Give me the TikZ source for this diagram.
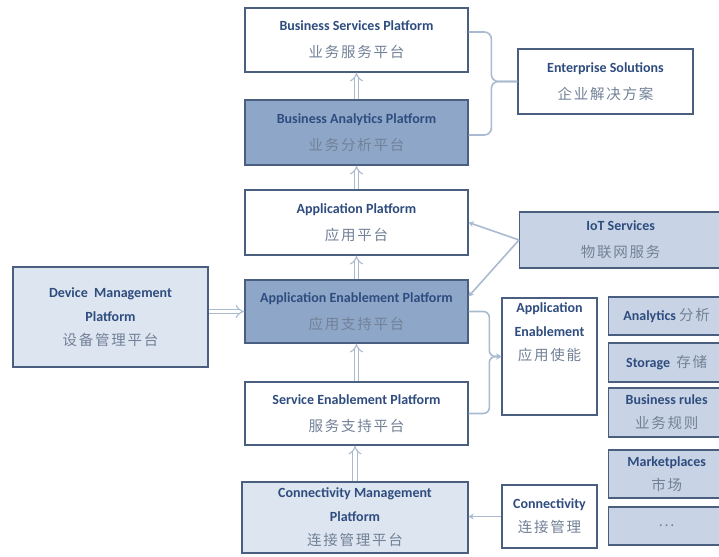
\documentclass[tikz,border=0pt]{standalone}
\usepackage{fontspec}
\setmainfont{Carlito}
\newfontfamily\cjk[LetterSpace=12]{Noto Sans CJK SC}
\usetikzlibrary{arrows.meta, positioning}
\definecolor{boxline}{HTML}{4A5F80}
\definecolor{entext}{HTML}{2E4C7E}
\definecolor{zhtext}{HTML}{728197}
\definecolor{darkfill}{HTML}{8EA7C9}
\definecolor{lightfill}{HTML}{DDE5F0}
\definecolor{midfill}{HTML}{C8D4E5}
\definecolor{linkline}{HTML}{AABAD1}
\newcommand{\zh}[1]{{\cjk\mdseries\color{zhtext}\fontsize{14.5}{24}\selectfont #1}}
\tikzset{
    block/.style={
        draw=boxline, line width=1.3pt, fill=white,
        align=center, inner sep=2pt, text=entext,
        font=\bfseries\fontsize{14}{24}\selectfont
    },
    platform/.style={block, minimum width=223pt, minimum height=64pt},
    dark/.style={fill=darkfill},
    light/.style={fill=lightfill},
    feature/.style={block, fill=midfill, minimum width=116pt, anchor=west},
    uplink/.style={draw=linkline, line width=1.1pt, double=white,
        double distance=3.4pt, -{Implies}},
    link/.style={draw=linkline, line width=1.6pt},
    >={Stealth[length=5pt,width=6pt]},
}

\begin{document}
\begin{tikzpicture}[x=1pt,y=-1pt]
    \useasboundingbox (0,0) rectangle (719,556);
    % platform stack
    \node[platform] (bsp) at (356.5,40) {Business Services Platform\\[3pt]\zh{业务服务平台}};
    \node[platform, dark, minimum height=65pt] (bap) at (356.5,132.5) {Business Analytics Platform\\[3pt]\zh{业务分析平台}};
    \node[platform, minimum height=65pt] (ap) at (356.5,222.5) {Application Platform\\[3pt]\zh{应用平台}};
    \node[platform, dark, minimum height=63pt] (aep) at (356.5,311.5) {Application Enablement Platform\\[3pt]\zh{应用支持平台}};
    \node[platform, minimum height=63pt] (sep) at (356.5,413.5) {Service Enablement Platform\\[3pt]\zh{服务支持平台}};
    \node[platform, light, minimum width=226pt, minimum height=71pt] (cmp) at (355,517.5) {Connectivity Management\\Platform\\\zh{连接管理平台}};
    % side boxes
    \node[block, light, minimum width=195pt, minimum height=100pt] (dmp) at (110.5,317) {Device~~Management\\Platform\\\zh{设备管理平台}};
    \node[block, minimum width=175pt, minimum height=65pt] (es) at (605.5,81.5) {Enterprise Solutions\\[3pt]\zh{企业解决方案}};
    \node[block, fill=midfill, minimum width=202pt, minimum height=56pt, anchor=west] (iot) at (519,240) {IoT Services\\[3pt]\zh{物联网服务}};
    \node[block, minimum width=95pt, minimum height=117pt] (ae) at (549.5,356.5) {\parbox[c][108pt][t]{90pt}{\centering Application\\Enablement\\\zh{应用使能}}};
    \node[block, minimum width=95pt, minimum height=63pt] (con) at (549.5,516.5) {Connectivity\\\zh{连接管理}};
    \foreach \name/\ypos/\h/\txt in {an/316/38/{Analytics \zh{分析}},
        st/362.5/39/{Storage~~\zh{存储}},
        br/412.5/49/{Business rules\\\zh{业务规则}},
        mk/474/48/{Marketplaces\\\zh{市场}},
        etc/526/38/{\zh{...}}}
    \node[feature, minimum height=\h pt] (\name) at (608,\ypos) {\txt};
    % connectors
    \foreach \a/\b in {bap/bsp,ap/bap,aep/ap,sep/aep,cmp/sep}
    \draw[uplink] (\a.north) -- (\a.north |- \b.south);
    \draw[uplink] (dmp.east |- aep.west) -- (aep.west);
    \draw[link,->] (iot.west) -- (ap.east);
    \draw[link,->] (iot.west) -- ([yshift=-17pt]aep.north east);
    \draw[link, rounded corners=7pt] ([yshift=8pt]bsp.east) -| ([xshift=-26pt]es.west) -- (es.west);
    \draw[link, rounded corners=7pt] ([yshift=-2.5pt]bap.east) -| ([xshift=-26pt]es.west) -- (es.west);
    \draw[link, rounded corners=6pt, ->] (aep.east) -| ([xshift=-12pt]ae.west) -- (ae.west);
    \draw[link, rounded corners=6pt, ->] (sep.east) -| ([xshift=-12pt]ae.west) -- (ae.west);
    \draw[link,->] (con.west) -- (con.west -| cmp.east);
\end{tikzpicture}
\end{document}
